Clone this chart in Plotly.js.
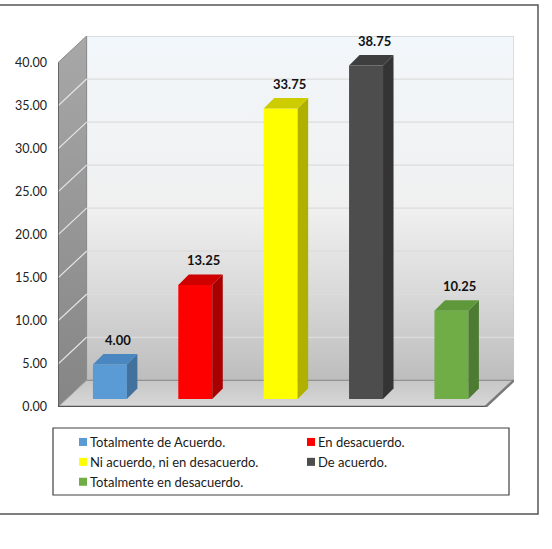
<!DOCTYPE html>
<html><head><meta charset="utf-8">
<script src="https://cdn.plot.ly/plotly-3.0.1.min.js"></script>
<style>html,body{margin:0;padding:0;background:#fff}#chart{width:552px;height:549px}</style>
</head><body><div id="chart"></div>
<script>
// ---- data ----
const categories = ['Totalmente de Acuerdo.', 'En desacuerdo.', 'Ni acuerdo, ni en desacuerdo.', 'De acuerdo.', 'Totalmente en desacuerdo.'];
const values = [4.00, 13.25, 33.75, 38.75, 10.25];
const tickValues = [0, 5, 10, 15, 20, 25, 30, 35, 40];

// ---- styles ----
const frontColors = ['#5b9bd5', '#ff0000', '#ffff00', '#4d4d4d', '#70ad47'];
const sideColors  = ['#41719c', '#a80000', '#b0b000', '#343434', '#4d7b31'];
const topColors   = ['#4a87c0', '#cf0000', '#cccc00', '#3e3e3e', '#5e983b'];

// ---- 3D box geometry (axis units) ----
const X0 = -0.608, XFR = 4.398, DX = 0.335, DY = 3.1;
const YMAX = 40, YTOP = DY + YMAX;
const BAR_W = 0.398, BAR_BASE = 0.93, BDX = 0.123, BDY = 1.22, LABEL_DX = 0.1;

const traces = [];
// back wall
traces.push({type:'scatter', mode:'lines', x:[X0+DX, XFR+DX, XFR+DX, X0+DX, X0+DX], y:[DY, DY, YTOP, YTOP, DY],
  fill:'toself', fillgradient:{type:'vertical', colorscale:[[0,'#bdbdbd'],[0.25,'#d9d9d9'],[0.5,'#f0f0f0'],[1,'#f2f7fb']]},
  line:{color:'#c4c4c4', width:1}, showlegend:false, hoverinfo:'skip'});
// left wall
traces.push({type:'scatter', mode:'lines', x:[X0, X0+DX, X0+DX, X0, X0], y:[0, DY, YTOP, YMAX, 0],
  fill:'toself', fillgradient:{type:'vertical', colorscale:[[0,'#858585'],[1,'#a8a8a8']]},
  line:{color:'#8a8a8a', width:1}, showlegend:false, hoverinfo:'skip'});
// floor
traces.push({type:'scatter', mode:'lines', x:[X0, XFR, XFR+DX, X0+DX, X0], y:[0, 0, DY, DY, 0],
  fill:'toself', fillgradient:{type:'vertical', colorscale:[[0,'#d8d8d8'],[1,'#c6c6c6']]},
  line:{color:'#a0a0a0', width:1}, showlegend:false, hoverinfo:'skip'});
// gridlines on back wall and left wall
const gbx = [], gby = [], glx = [], gly = [];
tickValues.filter(v => v > 0 && v < YMAX).forEach(v => {
  gbx.push(X0+DX, XFR+DX, null); gby.push(DY+v, DY+v, null);
  glx.push(X0, X0+DX, null); gly.push(v, DY+v, null);
});
traces.push({type:'scatter', mode:'lines', x:gbx, y:gby, line:{color:'#dcdcdc', width:1.3}, showlegend:false, hoverinfo:'skip'});
traces.push({type:'scatter', mode:'lines', x:glx, y:gly, line:{color:'#e6e6e6', width:1.2}, showlegend:false, hoverinfo:'skip'});
// floor back edge
traces.push({type:'scatter', mode:'lines', x:[X0+DX, XFR+DX], y:[DY, DY], line:{color:'#8e8e8e', width:1}, showlegend:false, hoverinfo:'skip'});
// front edges
traces.push({type:'scatter', mode:'lines', x:[X0, X0], y:[0, YMAX], line:{color:'#555555', width:1.5}, showlegend:false, hoverinfo:'skip'});
traces.push({type:'scatter', mode:'lines', x:[XFR, XFR+DX], y:[0, DY], line:{color:'#7a7a7a', width:2.5}, showlegend:false, hoverinfo:'skip'});
traces.push({type:'scatter', mode:'lines', x:[X0, XFR], y:[0, 0], line:{color:'#555555', width:2.5}, showlegend:false, hoverinfo:'skip'});

// bars (overlay subplot so they sit above the walls)
values.forEach((v, i) => {
  traces.push({type:'bar', x:[i], y:[v], base:[BAR_BASE], width:[BAR_W], name:categories[i],
    marker:{color:frontColors[i], line:{width:0}}, xaxis:'x2', yaxis:'y2', hoverinfo:'name+y'});
});
values.forEach((v, i) => {
  const xl = i - BAR_W/2, xr = i + BAR_W/2, yb = BAR_BASE, yt = BAR_BASE + v;
  traces.push({type:'scatter', mode:'lines', x:[xr, xr+BDX, xr+BDX, xr, xr], y:[yb, yb+BDY, yt+BDY, yt, yb],
    fill:'toself', fillcolor:sideColors[i], line:{width:0, color:sideColors[i]}, xaxis:'x2', yaxis:'y2', showlegend:false, hoverinfo:'skip'});
  traces.push({type:'scatter', mode:'lines', x:[xl, xl+BDX, xr+BDX, xr, xl], y:[yt, yt+BDY, yt+BDY, yt, yt],
    fill:'toself', fillcolor:topColors[i], line:{width:0, color:topColors[i]}, xaxis:'x2', yaxis:'y2', showlegend:false, hoverinfo:'skip'});
});

const annotations = values.map((v, i) => ({
  xref:'x2', yref:'y2', x:i + LABEL_DX, y:BAR_BASE + v + BDY, yshift:14, yanchor:'middle',
  text:'<b>' + v.toFixed(2) + '</b>', showarrow:false, font:{family:'Lato', size:13, color:'#111'}
}));

// pixel helpers for paper coordinates
const ML = 58, MT = 36, PW = 456, PH = 371;
const px = p => (p - ML) / PW, py = p => (MT + PH - p) / PH;

const layout = {
  width:552, height:549, margin:{l:ML, r:552-ML-PW, t:MT, b:549-MT-PH, autoexpand:false},
  paper_bgcolor:'#ffffff', plot_bgcolor:'rgba(0,0,0,0)', barmode:'overlay',
  xaxis:{range:[X0, XFR+DX], visible:false, fixedrange:true},
  yaxis:{range:[0, YTOP], tickvals:tickValues, tickformat:'.2f', showgrid:false, zeroline:false, showline:false,
    ticks:'', ticklabelstandoff:10, tickfont:{family:'Lato', size:12.5, color:'#222'}, fixedrange:true},
  xaxis2:{range:[X0, XFR+DX], overlaying:'x', visible:false, fixedrange:true},
  yaxis2:{range:[0, YTOP], overlaying:'y', visible:false, fixedrange:true},
  showlegend:true,
  legend:{orientation:'h', x:px(50), xanchor:'left', y:py(427), yanchor:'top', entrywidth:183,
    font:{family:'Lato', size:13, color:'#1a1a1a'}, bgcolor:'rgba(0,0,0,0)', borderwidth:0, traceorder:'normal'},
  annotations:annotations,
  shapes:[
    {type:'rect', xref:'paper', yref:'paper', x0:px(53), x1:px(509), y0:py(495), y1:py(428), line:{color:'#404040', width:1.2}},
    {type:'rect', xref:'paper', yref:'paper', x0:px(-1), x1:px(538), y0:py(514), y1:py(5), line:{color:'#555555', width:1.5}}
  ]
};
Plotly.newPlot('chart', traces, layout, {displayModeBar:false, staticPlot:true}).then(gd => {
  // smaller legend squares placed close to their text, as in the original
  gd.querySelectorAll('.legend .legendpoints path').forEach(p => {
    const t = p.getAttribute('transform') || '';
    p.setAttribute('transform', t + ' translate(13,0) scale(0.67)');
  });
});
</script></body></html>
